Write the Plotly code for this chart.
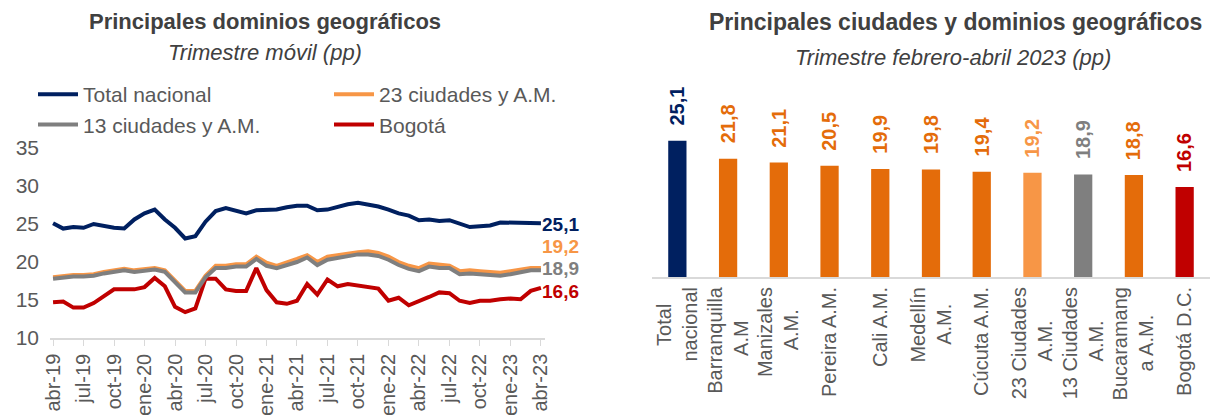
import plotly.graph_objects as go

# ---------------- Data ----------------
meses_abrev = ["ene", "feb", "mar", "abr", "may", "jun", "jul", "ago", "sep", "oct", "nov", "dic"]
periodos = [f"{meses_abrev[(3 + i) % 12]}-{19 + (3 + i) // 12}" for i in range(49)]
etiquetas_x = ["abr-19", "jul-19", "oct-19", "ene-20", "abr-20", "jul-20", "oct-20", "ene-21",
               "abr-21", "jul-21", "oct-21", "ene-22", "abr-22", "jul-22", "oct-22", "ene-23", "abr-23"]

total_nacional = [25.1, 24.4, 24.6, 24.5, 25.0, 24.7, 24.5, 24.4, 25.6, 26.4,
                  26.9, 25.6, 24.5, 23.1, 23.4, 25.3, 26.7, 27.1, 26.7, 26.4,
                  26.8, 26.8, 26.9, 27.2, 27.4, 27.4, 26.8, 26.9, 27.3, 27.6,
                  27.8, 27.6, 27.3, 26.9, 26.4, 26.1, 25.5, 25.6, 25.4, 25.5,
                  25.0, 24.6, 24.7, 24.8, 25.2, 25.2, 25.1, 25.2, 25.1]
ciudades_23 = [18.0, 18.2, 18.3, 18.3, 18.4, 18.7, 18.9, 19.1, 18.9, 19.0,
               19.2, 18.9, 17.5, 16.2, 16.2, 18.2, 19.5, 19.5, 19.7, 19.7,
               20.7, 19.9, 19.5, 19.9, 20.4, 20.9, 20.0, 20.7, 20.9, 21.2,
               21.3, 21.4, 21.2, 20.7, 20.0, 19.5, 19.2, 19.8, 19.6, 19.5,
               18.8, 18.9, 18.8, 18.7, 18.6, 18.8, 19.0, 19.2, 19.2]
ciudades_13 = [17.8, 18.0, 18.1, 18.1, 18.2, 18.5, 18.7, 18.9, 18.7, 18.8,
               19.0, 18.7, 17.3, 16.0, 16.0, 18.0, 19.2, 19.2, 19.4, 19.4,
               20.4, 19.5, 19.2, 19.6, 20.0, 20.6, 19.6, 20.3, 20.5, 20.8,
               21.0, 21.0, 20.8, 20.3, 19.6, 19.1, 18.8, 19.4, 19.2, 19.2,
               18.4, 18.5, 18.4, 18.3, 18.2, 18.4, 18.7, 18.9, 18.9]
bogota = [14.7, 14.8, 14.0, 14.0, 14.6, 15.5, 16.4, 16.4, 16.4, 16.7,
          17.9, 16.8, 14.1, 13.4, 13.9, 17.8, 17.8, 16.4, 16.2, 16.2,
          19.2, 16.3, 14.7, 14.5, 14.9, 17.1, 15.7, 17.7, 16.8, 17.1,
          16.9, 16.7, 16.5, 14.9, 15.3, 14.3, 14.8, 15.4, 16.0, 15.9,
          14.9, 14.6, 14.9, 14.9, 15.1, 15.2, 15.1, 16.2, 16.6]

ciudades = ["Total<br>nacional", "Barranquilla<br>A.M", "Manizales<br>A.M.", "Pereira A.M.",
            "Cali A.M.", "Medellín<br>A.M.", "Cúcuta A.M.", "23 Ciudades<br>A.M.",
            "13 Ciudades<br>A.M.", "Bucaramang<br>a A.M.", "Bogotá D.C."]
valores_ciudades = [25.1, 21.8, 21.1, 20.5, 19.9, 19.8, 19.4, 19.2, 18.9, 18.8, 16.6]

# ---------------- Styles ----------------
NAVY = "#002060"
ORANGE_L = "#F79646"
ORANGE_D = "#E46C0A"
GRAY = "#7F7F7F"
RED = "#C00000"
TXT = "#595959"
TITLE = "#404040"
FONT = "Liberation Sans, Arial, sans-serif"
colores_barras = [NAVY, ORANGE_D, ORANGE_D, ORANGE_D, ORANGE_D, ORANGE_D, ORANGE_D,
                  ORANGE_L, GRAY, ORANGE_D, RED]

# rotated multi-line labels: pad the shorter line so the lines appear centred
NB = "\u00a0"
ciudades_ticktext = [
    "Total" + NB * 3 + "<br>nacional",
    "Barranquilla<br>A.M" + NB * 6,
    "Manizales<br>A.M." + NB * 4,
    "Pereira A.M.",
    "Cali A.M.",
    "Medellín<br>A.M." + NB * 3,
    "Cúcuta A.M.",
    "23 Ciudades<br>A.M." + NB * 6,
    "13 Ciudades<br>A.M." + NB * 6,
    "Bucaramang<br>a A.M." + NB * 5,
    "Bogotá D.C.",
]

W, H = 1210, 415


def fx(p):
    return p / W


def fy(p):
    return 1 - p / H


fig = go.Figure()

series = [
    ("Total nacional", total_nacional, NAVY, "legend", "a"),
    ("23 ciudades y A.M.", ciudades_23, ORANGE_L, "legend2", "c"),
    ("13 ciudades y A.M.", ciudades_13, GRAY, "legend", "b"),
    ("Bogotá", bogota, RED, "legend2", "d"),
]
for name, vals, col, leg, grp in [series[3], series[1], series[2], series[0]]:
    fig.add_trace(go.Scatter(
        x=periodos, y=vals, name=name, mode="lines",
        line=dict(color=col, width=4),
        legend=leg, legendgroup=grp, legendrank={"a": 1, "b": 2, "c": 1, "d": 2}[grp],
        xaxis="x", yaxis="y", hoverinfo="skip"))

fig.add_trace(go.Bar(
    x=ciudades, y=valores_ciudades, marker=dict(color=colores_barras, line=dict(width=0)),
    width=0.36, xaxis="x2", yaxis="y2", showlegend=False, hoverinfo="skip"))

annotations = []
finales = [(total_nacional, NAVY, -1), (ciudades_23, ORANGE_L, 22), (ciudades_13, GRAY, 2), (bogota, RED, -4)]
for vals, col, ys in finales:
    annotations.append(dict(
        x=periodos[-1], y=vals[-1], xref="x", yref="y", xanchor="left", yanchor="middle",
        xshift=-1, yshift=ys, showarrow=False,
        text="<b>" + f"{vals[-1]:.1f}".replace(".", ",") + "</b>",
        font=dict(family=FONT, size=19, color=col)))

colores_etiquetas = [NAVY, ORANGE_D, ORANGE_D, ORANGE_D, ORANGE_D, ORANGE_D, ORANGE_D,
                     ORANGE_L, GRAY, ORANGE_D, RED]
for c, v, col in zip(ciudades, valores_ciudades, colores_etiquetas):
    annotations.append(dict(
        x=c, y=v, xref="x2", yref="y2", xanchor="center", yanchor="bottom",
        yshift=13, showarrow=False, textangle=-90,
        text="<b>" + f"{v:.1f}".replace(".", ",") + "</b>",
        font=dict(family=FONT, size=20, color=col)))

annotations += [
    dict(x=fx(265), y=fy(22), xref="paper", yref="paper", showarrow=False,
         text="<b>Principales dominios geográficos</b>", xanchor="center", yanchor="middle",
         font=dict(family=FONT, size=22, color=TITLE)),
    dict(x=fx(265), y=fy(53), xref="paper", yref="paper", showarrow=False,
         text="<i>Trimestre móvil (pp)</i>", xanchor="center", yanchor="middle",
         font=dict(family=FONT, size=22, color=TITLE)),
    dict(x=fx(955), y=fy(22), xref="paper", yref="paper", showarrow=False,
         text="<b>Principales ciudades y dominios geográficos</b>", xanchor="center", yanchor="middle",
         font=dict(family=FONT, size=23, color=TITLE)),
    dict(x=fx(953), y=fy(57), xref="paper", yref="paper", showarrow=False,
         text="<i>Trimestre febrero-abril 2023 (pp)</i>", xanchor="center", yanchor="middle",
         font=dict(family=FONT, size=22, color=TITLE)),
]

legend_common = dict(orientation="v", xanchor="left", yanchor="top", bgcolor="rgba(0,0,0,0)",
                     font=dict(family=FONT, size=21, color=TXT), tracegroupgap=3,
                     traceorder="normal", itemwidth=40)

fig.update_layout(
    width=W, height=H, margin=dict(l=0, r=0, t=0, b=0, autoexpand=False),
    paper_bgcolor="white", plot_bgcolor="white",
    font=dict(family=FONT, color=TXT),
    legend=dict(x=fx(33), y=fy(74), **legend_common),
    legend2=dict(x=fx(329), y=fy(74), **legend_common),
    xaxis=dict(domain=[fx(50), fx(545)], type="category", range=[-0.3, 48.4],
               tickmode="array", tickvals=etiquetas_x, ticktext=etiquetas_x, tickangle=-90,
               ticks="outside", ticklen=6, tickcolor="#D9D9D9", tickwidth=1,
               showline=True, linecolor="#D9D9D9", linewidth=1.5, showgrid=False, zeroline=False,
               automargin=False,
               tickfont=dict(family=FONT, size=20, color=TXT), anchor="y"),
    yaxis=dict(domain=[fy(338), fy(148)], range=[10, 35], dtick=5, tick0=10,
               showgrid=False, showline=False, zeroline=False, ticks="",
               ticklabelstandoff=10, automargin=False,
               tickfont=dict(family=FONT, size=21, color=TXT), anchor="x"),
    xaxis2=dict(domain=[fx(652), 1.0], type="category", range=[-0.5, 10.5],
                tickmode="array", tickvals=ciudades, ticktext=ciudades_ticktext,
                tickangle=-90, ticks="", showline=True, linecolor="#D9D9D9", linewidth=2,
                showgrid=False, zeroline=False, automargin=False,
                tickfont=dict(family=FONT, size=20, color=TXT), anchor="y2"),
    yaxis2=dict(domain=[fy(277), fy(87)], range=[0, 35], visible=False, automargin=False,
                anchor="x2"),
    annotations=annotations,
)

fig.write_html("out.html", config={"displayModeBar": False},
               post_script="document.body.style.margin='0px';")
